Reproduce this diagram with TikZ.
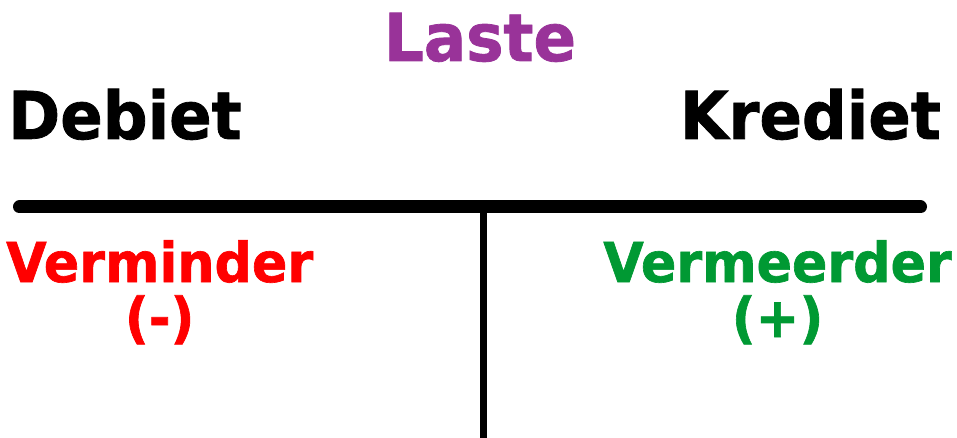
\documentclass[tikz,border=0pt]{standalone}
\usepackage{fontspec}
\setmainfont{DejaVu Sans}[FakeStretch=0.95, BoldFeatures={FakeStretch=0.95, FakeBold=1.2}]
\usetikzlibrary{positioning}
\definecolor{lastepurple}{HTML}{993399}
\definecolor{minred}{HTML}{FF0000}
\definecolor{plusgreen}{HTML}{009933}
\tikzset{
    x=1pt, y=-1pt, % pixel coordinates, y going down
    every node/.style={inner sep=0pt, font=\bfseries}, % bold text, no padding
    head/.style={font=\fontsize{66}{70}\selectfont\bfseries}, % the big titles
    side/.style={font=\fontsize{55}{58}\selectfont\bfseries}, % the side texts
    tline/.style={line cap=round, black}, % the lines of the T
}

\begin{document}
\begin{tikzpicture}
                            \useasboundingbox (0,0) rectangle (957,438);
                            \node[head, text=lastepurple, anchor=base] (laste) at (480,61) {Laste};
                            \node[head, anchor=base west] (debiet) at (8,139) {Debiet};
                            \node[head, anchor=base east] (krediet) at (941,139) {Krediet};
                            \node[side, text=minred, anchor=base west] (verminder) at (6,282) {Verminder};
                            \node[side, text=minred, anchor=base] (minus) at ([yshift=-55pt]verminder.base) {(-)};
                            \node[side, text=plusgreen, anchor=base east] (vermeerder) at (952,282) {Vermeerder};
                            \node[side, text=plusgreen, anchor=base] (plus) at ([yshift=-55pt]vermeerder.base) {(+)};
                            \coordinate (top left) at (19.5,207);
                            \coordinate (top right) at (920.5,207);
                            \coordinate (stem top) at (483.5,207);
                            \coordinate (stem foot) at (483.5,438);
                            \draw[tline, line width=7pt] (stem top) -- (stem foot);
                            \draw[tline, line width=13pt] (top left) -- (top right);
                        \end{tikzpicture}
\end{document}
